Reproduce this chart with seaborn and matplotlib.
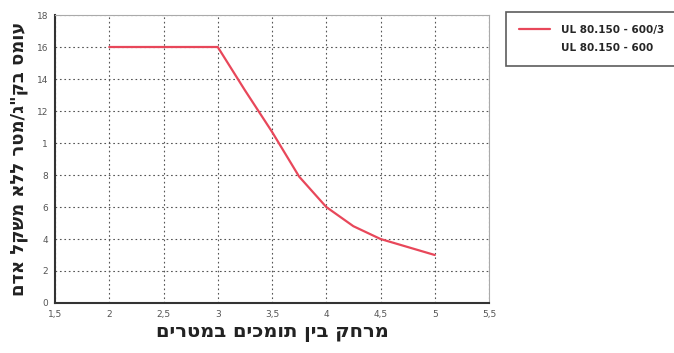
import matplotlib
matplotlib.use("Agg")
import matplotlib.pyplot as plt
import seaborn as sns
import pandas as pd
from matplotlib.lines import Line2D

# Data
span_m = [2.0, 2.5, 3.0, 3.25, 3.5, 3.75, 4.0, 4.25, 4.5, 4.75, 5.0]
load_kg_m = [16, 16, 16, 13.3, 10.7, 7.9, 6.0, 4.8, 4.0, 3.5, 3.0]
series_names = ["UL 80.150 - 600/3", "UL 80.150 - 600"]
x_ticks = [1.5, 2, 2.5, 3, 3.5, 4, 4.5, 5, 5.5]
x_tick_labels = ["1,5", "2", "2,5", "3", "3,5", "4", "4,5", "5", "5,5"]
y_ticks = [0, 2, 4, 6, 8, 10, 12, 14, 16, 18]
y_tick_labels = ["0", "2", "4", "6", "8", "1", "12", "14", "16", "18"]
y_label = "עומס בק\"ג/מטר ללא משקל אדם"
x_label = "מרחק בין תומכים במטרים"

def visual(s):
    # matplotlib has no bidi support: give Hebrew in visual (reversed) order
    return s[::-1]

sns.set_style("white")
plt.rcParams['font.family'] = ['DejaVu Sans']

fig = plt.figure(figsize=(6.74, 3.53), dpi=100)
ax = fig.add_axes([55/674, 1-303/353, (489-55)/674, (303-15)/353])

df = pd.DataFrame({"x": span_m, "y": load_kg_m})
sns.lineplot(data=df, x="x", y="y", ax=ax, color="#e8475a", linewidth=1.6)

ax.set_xlim(1.5, 5.5)
ax.set_ylim(0, 18)
ax.set_xticks(x_ticks)
ax.set_xticklabels(x_tick_labels, fontsize=6.5, color="#555555")
ax.set_yticks(y_ticks)
ax.set_yticklabels(y_tick_labels, fontsize=6.5, color="#555555")
ax.tick_params(axis="both", length=3, width=0.8, color="#555555", pad=2)
ax.grid(True, linestyle=(0, (1.5, 2.5)), color="#555555", linewidth=0.8)

for side in ["top", "right"]:
    ax.spines[side].set_color("#aaaaaa")
    ax.spines[side].set_linewidth(0.8)
for side in ["left", "bottom"]:
    ax.spines[side].set_color("#333333")
    ax.spines[side].set_linewidth(1.5)

ax.set_xlabel(visual(x_label), fontsize=14, fontweight="bold", color="#222222", labelpad=3)
ax.set_ylabel(visual(y_label), fontsize=13, fontweight="bold", color="#222222", labelpad=6)

handles = [Line2D([0], [0], color="#e8475a", lw=1.6),
           Line2D([0], [0], color="none", lw=1.6)]
leg = fig.legend(handles, series_names, loc="upper left",
                 bbox_to_anchor=(506/674, 1-12/353), frameon=True,
                 fancybox=False, edgecolor="#333333",
                 prop={"weight": "bold", "size": 7.5}, handlelength=3.0,
                 handletextpad=1.0, borderpad=1.25, labelspacing=0.8,
                 borderaxespad=0)
leg.get_frame().set_linewidth(1.2)

fig.savefig("out.png", dpi=100)
